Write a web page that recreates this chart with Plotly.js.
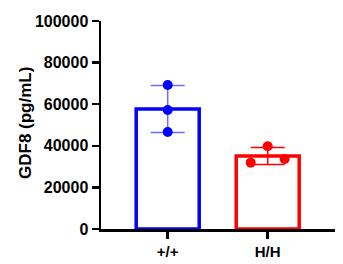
<!DOCTYPE html>
<html>
<head>
<meta charset="utf-8">
<script src="https://cdn.plot.ly/plotly-3.0.1.min.js"></script>
<style>html,body{margin:0;padding:0;background:#fff;}#chart{width:343px;height:264px;}</style>
</head>
<body>
<div id="chart"></div>
<script>
const categories = ["+/+", "H/H"];
const wtValues = [69200, 57200, 46600];
const hhValues = [31900, 39760, 33650];
const colors = ["#0000FF", "#FF0000"];
const errColors = ["rgba(60,60,255,0.75)", "#FF0000"];
const wtJitter = [0, 0, 0];
const hhJitter = [-0.17, 0, 0.17];
const yTicks = [0, 20000, 40000, 60000, 80000, 100000];
const yTitle = "GDF8 (pg/mL)";

function mean(a){return a.reduce((s,v)=>s+v,0)/a.length;}
function sd(a){const m=mean(a);return Math.sqrt(a.reduce((s,v)=>s+(v-m)*(v-m),0)/(a.length-1));}

const groups = [wtValues, hhValues];
const jitters = [wtJitter, hhJitter];
const means = groups.map(mean);
const sds = groups.map(sd);

const font = {family: "Liberation Sans, Arial, sans-serif", color: "#000", weight: "bold"};
const traces = [];
traces.push({
  type: "bar", x: [0, 1], y: means, width: 0.63,
  marker: {color: "rgba(255,255,255,0)", line: {color: colors, width: 3.5}},
  hoverinfo: "none", showlegend: false
});
groups.forEach((g, i) => {
  traces.push({
    type: "scatter", mode: "markers", x: [i], y: [means[i]],
    marker: {size: 1, opacity: 0},
    error_y: {type: "data", array: [sds[i]], visible: true, color: errColors[i], thickness: 1.5, width: 17},
    showlegend: false, hoverinfo: "none"
  });
});
groups.forEach((g, i) => {
  traces.push({
    type: "scatter", mode: "markers",
    x: g.map((v, k) => i + jitters[i][k]), y: g,
    marker: {size: 10, color: colors[i]},
    showlegend: false, hoverinfo: "none", cliponaxis: false
  });
});

const layout = {
  width: 343, height: 264,
  margin: {l: 101, r: 8, t: 21, b: 35},
  paper_bgcolor: "#fff", plot_bgcolor: "#fff",
  showlegend: false,
  xaxis: {
    range: [-0.667, 1.673], tickvals: [0, 1], ticktext: categories,
    showgrid: false, zeroline: false, showline: true, linecolor: "#000", linewidth: 2.5,
    ticks: "outside", ticklen: 7, tickwidth: 2.5, tickcolor: "#000",
    tickfont: Object.assign({size: 15}, font)
  },
  yaxis: {
    range: [0, 100000], tickvals: yTicks, ticktext: yTicks.map(String),
    showgrid: false, zeroline: false, showline: true, linecolor: "#000", linewidth: 2.5,
    ticks: "outside", ticklen: 7, tickwidth: 2.5, tickcolor: "#000",
    tickfont: Object.assign({size: 16}, font)
  },
  annotations: [{
    text: yTitle, xref: "paper", yref: "paper",
    x: (25 - 101) / 234, y: (229 - 123) / 208, xanchor: "center", yanchor: "middle",
    textangle: -90, showarrow: false, font: Object.assign({size: 17}, font)
  }]
};
Plotly.newPlot("chart", traces, layout, {staticPlot: true, displayModeBar: false});
</script>
</body>
</html>
